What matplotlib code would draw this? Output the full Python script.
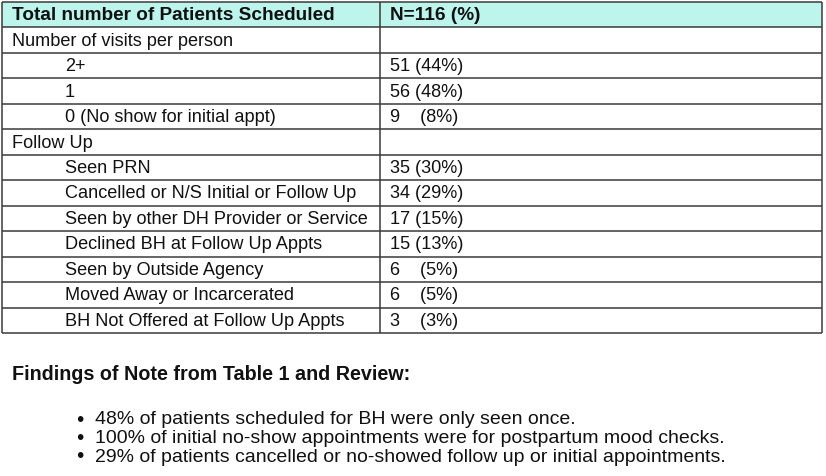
import matplotlib
matplotlib.use("Agg")
import matplotlib.pyplot as plt

# ---- data ----
header_left = "Total number of Patients Scheduled"
header_right = "N=116 (%)"

visit_title = "Number of visits per person"
visit_labels = ["2+", "1", "0 (No show for initial appt)"]
visit_counts = [51, 56, 9]
visit_pcts = [44, 48, 8]

followup_title = "Follow Up"
followup_labels = ["Seen PRN", "Cancelled or N/S Initial or Follow Up",
                   "Seen by other DH Provider or Service",
                   "Declined BH at Follow Up Appts", "Seen by Outside Agency",
                   "Moved Away or Incarcerated", "BH Not Offered at Follow Up Appts"]
followup_counts = [35, 34, 17, 15, 6, 6, 3]
followup_pcts = [30, 29, 15, 13, 5, 5, 3]

findings_title = "Findings of Note from Table 1 and Review:"
findings = ["48% of patients scheduled for BH were only seen once.",
            "100% of initial no-show appointments were for postpartum mood checks.",
            "29% of patients cancelled or no-showed follow up or initial appointments."]

# ---- layout ----
W, H = 826, 476
FONT = "Liberation Sans"
fig = plt.figure(figsize=(W / 100, H / 100), dpi=100)
ax = fig.add_axes([0, 0, 1, 1])
ax.set_xlim(0, W)
ax.set_ylim(H, 0)
ax.axis("off")

x0, xm, x1 = 2, 380, 822
y0 = 2
rh = 25.46
fs = 13.1
fsb = 13.7


def fmt(c, p):
    s = str(c)
    if len(s) == 1:
        s = s + "   "
    return f"{s} ({p}%)"


rows = [("title", visit_title, "")]
for l, c, p in zip(visit_labels, visit_counts, visit_pcts):
    rows.append(("item", l, fmt(c, p)))
rows.append(("title", followup_title, ""))
for l, c, p in zip(followup_labels, followup_counts, followup_pcts):
    rows.append(("item", l, fmt(c, p)))

n = len(rows) + 1
y_end = y0 + n * rh

# header background
ax.add_patch(plt.Rectangle((x0, y0), x1 - x0, rh, facecolor="#bdf5ec",
                           edgecolor="none", zorder=0))
ax.text(12, y0 + rh / 2 + 1, header_left, fontsize=fsb, fontweight="bold",
        family=FONT, va="center", ha="left", color="#111111")
ax.text(390, y0 + rh / 2 + 1, header_right, fontsize=fsb, fontweight="bold",
        family=FONT, va="center", ha="left", color="#111111")

for i, (kind, left, right) in enumerate(rows):
    yc = y0 + (i + 1) * rh + rh / 2 + 1
    xl = 12 if kind == "title" else 65
    ax.text(xl, yc, left, fontsize=fs, family=FONT, va="center", ha="left",
            color="#111111")
    if right:
        ax.text(390, yc, right, fontsize=fs, family=FONT, va="center",
                ha="left", color="#111111")

lc = "#3a3a3a"
lw = 1.1
for i in range(n + 1):
    y = y0 + i * rh
    ax.plot([x0, x1], [y, y], color=lc, lw=lw, solid_capstyle="butt")
for x in (x0, xm, x1):
    ax.plot([x, x], [y0, y_end], color=lc, lw=lw, solid_capstyle="butt")

# findings
ax.text(12, 375, findings_title, fontsize=14.2, fontweight="bold", family=FONT,
        va="center", ha="left", color="#111111")
for j, f in enumerate(findings):
    yy = 420 + j * 18.5
    ax.text(80, yy, "\u2022", fontsize=15, family=FONT, va="center",
            ha="center", color="#111111")
    ax.text(95, yy, f, fontsize=14, family=FONT, va="center", ha="left",
            color="#111111")

fig.savefig("out.png", dpi=100)
